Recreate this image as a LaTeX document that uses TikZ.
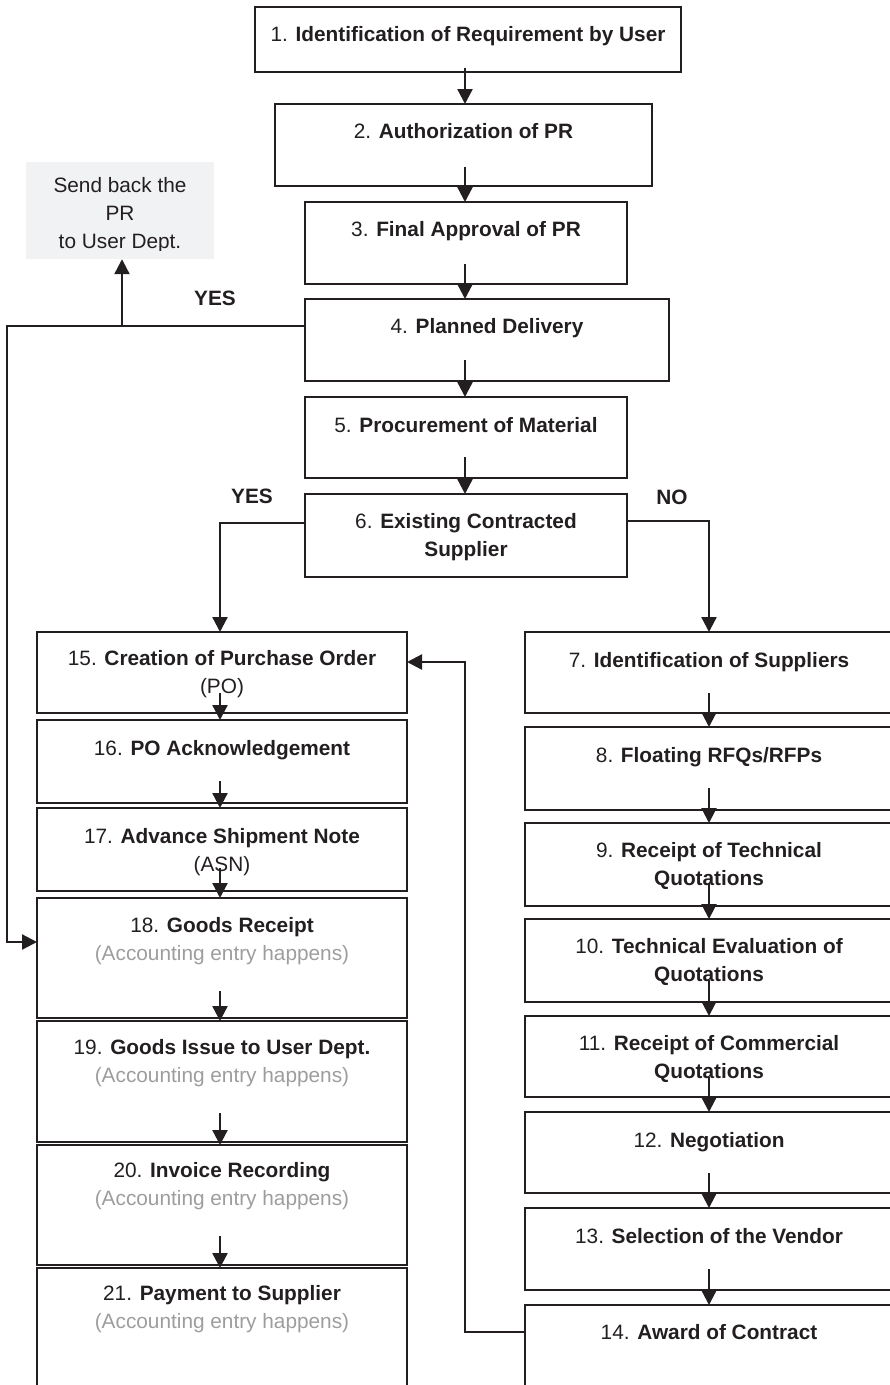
\documentclass[tikz,border=0pt]{standalone}
\usepackage{fontspec}
\setmainfont{Liberation Sans}
\usetikzlibrary{arrows.meta,calc}

\definecolor{ink}{HTML}{231F20}
\definecolor{soft}{HTML}{9D9D9D}
\definecolor{panel}{HTML}{F1F2F4}

% centred block of lines whose reference point is the first baseline
\newcommand\linesat[1]{\begin{tabular}[t]{@{}c@{}}#1\end{tabular}}
% rectangle from (x1,y1) to (x2,y2), y growing downwards
\newcommand\flowbox[5]{%
  \node[stepbox, minimum width={#4-#2}, minimum height={#5-#3}]
    (#1) at ({(#2+#4)/2},{(#3+#5)/2}) {};}

\begin{document}
\begin{tikzpicture}[x=1pt,y=-1pt,
  stepbox/.style={draw=ink, line width=2.7pt, inner sep=0pt, outer sep=0pt},
  txt/.style={inner sep=0pt, anchor=base, text=ink,
              font=\fontsize{20.8}{28}\selectfont},
  lbl/.style={inner sep=0pt, anchor=base, text=ink,
              font=\fontsize{20.8}{28}\selectfont\bfseries},
  arr/.style={draw=ink, line width=2.3pt, -{Triangle[length=15pt,width=15pt]}}
]
\useasboundingbox (0,0) rectangle (890,1385);

% ---- main column ----
\flowbox{b1}{255}{7}{681}{72}
\flowbox{b2}{275}{104}{652}{186}
\flowbox{b3}{305}{202}{627}{284}
\flowbox{b4}{305}{299}{669}{381}
\flowbox{b5}{305}{397}{627}{478}
\flowbox{b6}{305}{494}{627}{577}

% ---- supplier sourcing column ----
\flowbox{b7}{525}{632}{893}{713}
\flowbox{b8}{525}{727}{893}{810}
\flowbox{b9}{525}{823}{893}{906}
\flowbox{b10}{525}{919}{893}{1002}
\flowbox{b11}{525}{1016}{893}{1097}
\flowbox{b12}{525}{1112}{893}{1193}
\flowbox{b13}{525}{1208}{893}{1290}
\flowbox{b14}{525}{1305}{893}{1400}

% ---- purchase order column ----
\flowbox{b15}{37}{632}{407}{713}
\flowbox{b16}{37}{720}{407}{803}
\flowbox{b17}{37}{808}{407}{891}
\flowbox{b18}{37}{898}{407}{1018}
\flowbox{b19}{37}{1021}{407}{1142}
\flowbox{b20}{37}{1145}{407}{1265}
\flowbox{b21}{37}{1268}{407}{1400}

% ---- texts ----
\node[txt] (t1) at ($(b1.north)+(0,34)$) {1. \textbf{Identification of Requirement by User}};
\node[txt] (t2) at ($(b2.north)+(0,34)$) {2. \textbf{Authorization of PR}};
\node[txt] (t3) at ($(b3.north)+(0,34)$) {3. \textbf{Final Approval of PR}};
\node[txt] (t4) at ($(b4.north)+(0,34)$) {4. \textbf{Planned Delivery}};
\node[txt] (t5) at ($(b5.north)+(0,35)$) {5. \textbf{Procurement of Material}};
\node[txt] (t6) at ($(b6.north)+(0,34)$) {\linesat{6. \textbf{Existing Contracted}\\\textbf{Supplier}}};

\node[txt] (t7) at ($(b7.north)+(0,35)$) {7. \textbf{Identification of Suppliers}};
\node[txt] (t8) at ($(b8.north)+(0,35)$) {8. \textbf{Floating RFQs/RFPs}};
\node[txt] (t9) at ($(b9.north)+(0,34)$) {\linesat{9. \textbf{Receipt of Technical}\\\textbf{Quotations}}};
\node[txt] (t10) at ($(b10.north)+(0,34)$) {\linesat{10. \textbf{Technical Evaluation of}\\\textbf{Quotations}}};
\node[txt] (t11) at ($(b11.north)+(0,34)$) {\linesat{11. \textbf{Receipt of Commercial}\\\textbf{Quotations}}};
\node[txt] (t12) at ($(b12.north)+(0,35)$) {12. \textbf{Negotiation}};
\node[txt] (t13) at ($(b13.north)+(0,35)$) {13. \textbf{Selection of the Vendor}};
\node[txt] (t14) at ($(b14.north)+(0,34)$) {14. \textbf{Award of Contract}};

\node[txt] (t15) at ($(b15.north)+(0,33)$) {\linesat{15. \textbf{Creation of Purchase Order}\\(PO)}};
\node[txt] (t16) at ($(b16.north)+(0,35)$) {16. \textbf{PO Acknowledgement}};
\node[txt] (t17) at ($(b17.north)+(0,35)$) {\linesat{17. \textbf{Advance Shipment Note}\\(ASN)}};
\node[txt] (t18) at ($(b18.north)+(0,34)$) {\linesat{18. \textbf{Goods Receipt}\\\textcolor{soft}{(Accounting entry happens)}}};
\node[txt] (t19) at ($(b19.north)+(0,33)$) {\linesat{19. \textbf{Goods Issue to User Dept.}\\\textcolor{soft}{(Accounting entry happens)}}};
\node[txt] (t20) at ($(b20.north)+(0,32)$) {\linesat{20. \textbf{Invoice Recording}\\\textcolor{soft}{(Accounting entry happens)}}};
\node[txt] (t21) at ($(b21.north)+(0,32)$) {\linesat{21. \textbf{Payment to Supplier}\\\textcolor{soft}{(Accounting entry happens)}}};

% ---- send-back note (text cut at its lower edge) ----
\node[fill=panel, inner sep=0pt, minimum width=188, minimum height=97] (send) at (120,210.5) {};
\begin{scope}
  \clip (26,162) rectangle (214,250);
  \node[txt] (sendtxt) at ($(send.north)+(0,31)$) {\linesat{Send back the\\PR\\to User Dept.}};
\end{scope}

% ---- decision labels ----
\node[lbl] (yes1) at (215,305) {YES};
\node[lbl] (yes2) at (252,503) {YES};
\node[lbl] (no) at (672,504) {NO};

% ---- column axes ----
\coordinate (mx) at (465,0);
\coordinate (lx) at (220,0);
\coordinate (rx) at (709,0);

% ---- main flow ----
\draw[arr] ($(b1.south -| mx)+(0,-4)$) -- (b2.north -| mx);
\draw[arr] ($(b2.south -| mx)+(0,-19)$) -- (b3.north -| mx);
\draw[arr] ($(b3.south -| mx)+(0,-20)$) -- (b4.north -| mx);
\draw[arr] ($(b4.south -| mx)+(0,-21)$) -- (b5.north -| mx);
\draw[arr] ($(b5.south -| mx)+(0,-21)$) -- (b6.north -| mx);

% ---- sourcing flow ----
\draw[arr] ($(b7.south -| rx)+(0,-20)$) -- (b8.north -| rx);
\draw[arr] ($(b8.south -| rx)+(0,-22)$) -- (b9.north -| rx);
\draw[arr] ($(b9.south -| rx)+(0,-23)$) -- (b10.north -| rx);
\draw[arr] ($(b10.south -| rx)+(0,-22)$) -- (b11.north -| rx);
\draw[arr] ($(b11.south -| rx)+(0,-20)$) -- (b12.north -| rx);
\draw[arr] ($(b12.south -| rx)+(0,-20)$) -- (b13.north -| rx);
\draw[arr] ($(b13.south -| rx)+(0,-21)$) -- (b14.north -| rx);

% ---- purchase order flow ----
\draw[arr] ($(b15.south -| lx)+(0,-20)$) -- (b16.north -| lx);
\draw[arr] ($(b16.south -| lx)+(0,-22)$) -- (b17.north -| lx);
\draw[arr] ($(b17.south -| lx)+(0,-23)$) -- (b18.north -| lx);
\draw[arr] ($(b18.south -| lx)+(0,-27)$) -- (b19.north -| lx);
\draw[arr] ($(b19.south -| lx)+(0,-29)$) -- (b20.north -| lx);
\draw[arr] ($(b20.south -| lx)+(0,-29)$) -- (b21.north -| lx);

% ---- branches ----
\coordinate (lft) at (7,326);
\coordinate (sb) at (122,326);
\draw[arr] (b4.west |- lft) -- (lft) |- ($(b18.west)+(0,-16)$);
\draw[arr] (sb) -- (send.south -| sb);

\draw[arr] ($(b6.west)+(0,-12.5)$) -| (b15.north -| lx);
\draw[arr] ($(b6.east)+(0,-14.5)$) -| (b7.north -| rx);

\coordinate (ret) at (465,1332);
\draw[arr] (b14.west |- ret) -- (ret) |- ($(b15.east)+(0,-10.5)$);
\end{tikzpicture}
\end{document}
